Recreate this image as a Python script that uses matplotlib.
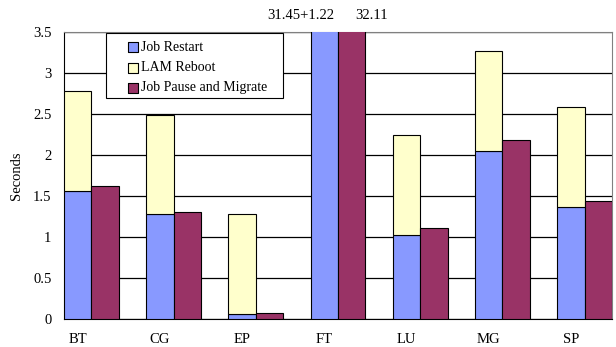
import numpy as np
import matplotlib.pyplot as plt
from matplotlib.patches import Rectangle

# Datos
categorias = ['BT', 'CG', 'EP', 'FT', 'LU', 'MG', 'SP']
job_restart = [1.56, 1.28, 0.06, 31.45, 1.03, 2.05, 1.37]
lam_reboot = [1.22, 1.21, 1.22, 1.22, 1.22, 1.22, 1.22]
pause_migrate = [1.62, 1.30, 0.07, 32.11, 1.11, 2.18, 1.44]
series = ['Job Restart', 'LAM Reboot', 'Job Pause and Migrate']

c_azul = '#8899FF'
c_amarillo = '#FFFFCC'
c_granate = '#993366'

plt.rcParams['font.family'] = 'Liberation Serif'
fs = 10.5

fig = plt.figure(figsize=(6.16, 3.47), dpi=100)
ax = fig.add_axes([64 / 616, 1 - 319 / 347, 548 / 616, 287 / 347])

x = np.arange(len(categorias))
w = 1 / 3
ax.bar(x - w / 2, job_restart, w, color=c_azul, edgecolor='black', linewidth=0.8, zorder=3)
ax.bar(x - w / 2, lam_reboot, w, bottom=job_restart, color=c_amarillo, edgecolor='black', linewidth=0.8, zorder=3)
ax.bar(x + w / 2, pause_migrate, w, color=c_granate, edgecolor='black', linewidth=0.8, zorder=3)

ax.set_xlim(-w, len(categorias) - 1 + w)
ax.set_ylim(0, 3.5)
ax.set_yticks(np.arange(0, 3.51, 0.5))
ax.set_yticklabels(['0', '0.5', '1', '1.5', '2', '2.5', '3', '3.5'])
ax.set_xticks(x - w / 2)
ax.set_xticklabels(categorias)
ax.tick_params(axis='x', length=0, pad=10, labelsize=fs)
ax.tick_params(axis='y', length=0, pad=9, labelsize=fs)
ax.grid(axis='y', color='black', linewidth=0.9, zorder=0)
ax.set_ylabel('Seconds', fontsize=fs, labelpad=7)

ax.spines['top'].set_color('gray')
ax.spines['right'].set_color('gray')

# Valores fuera de escala para FT
ax.text(2.55, 1.035, '%.2f+%.2f' % (job_restart[3], lam_reboot[3]), transform=ax.get_xaxis_transform(),
        ha='center', va='bottom', fontsize=fs)
ax.text(3.41, 1.035, '%.2f' % pause_migrate[3], transform=ax.get_xaxis_transform(),
        ha='center', va='bottom', fontsize=fs)

# Leyenda dibujada a mano
ax.add_patch(Rectangle((0.0766, 0.770), 0.323, 0.2265, transform=ax.transAxes,
                       facecolor='white', edgecolor='black', linewidth=0.8, zorder=5))
colores = [c_azul, c_amarillo, c_granate]
filas = [0.9477, 0.876, 0.805]
for nombre, col, yy in zip(series, colores, filas):
    ax.scatter([0.125], [yy], s=42, marker='s', color=col, edgecolors='black', linewidths=0.8,
               transform=ax.transAxes, zorder=6, clip_on=False)
    ax.text(0.1405, yy, nombre, transform=ax.transAxes, ha='left', va='center',
            fontsize=10, zorder=6)

fig.savefig('out.png', dpi=100)
